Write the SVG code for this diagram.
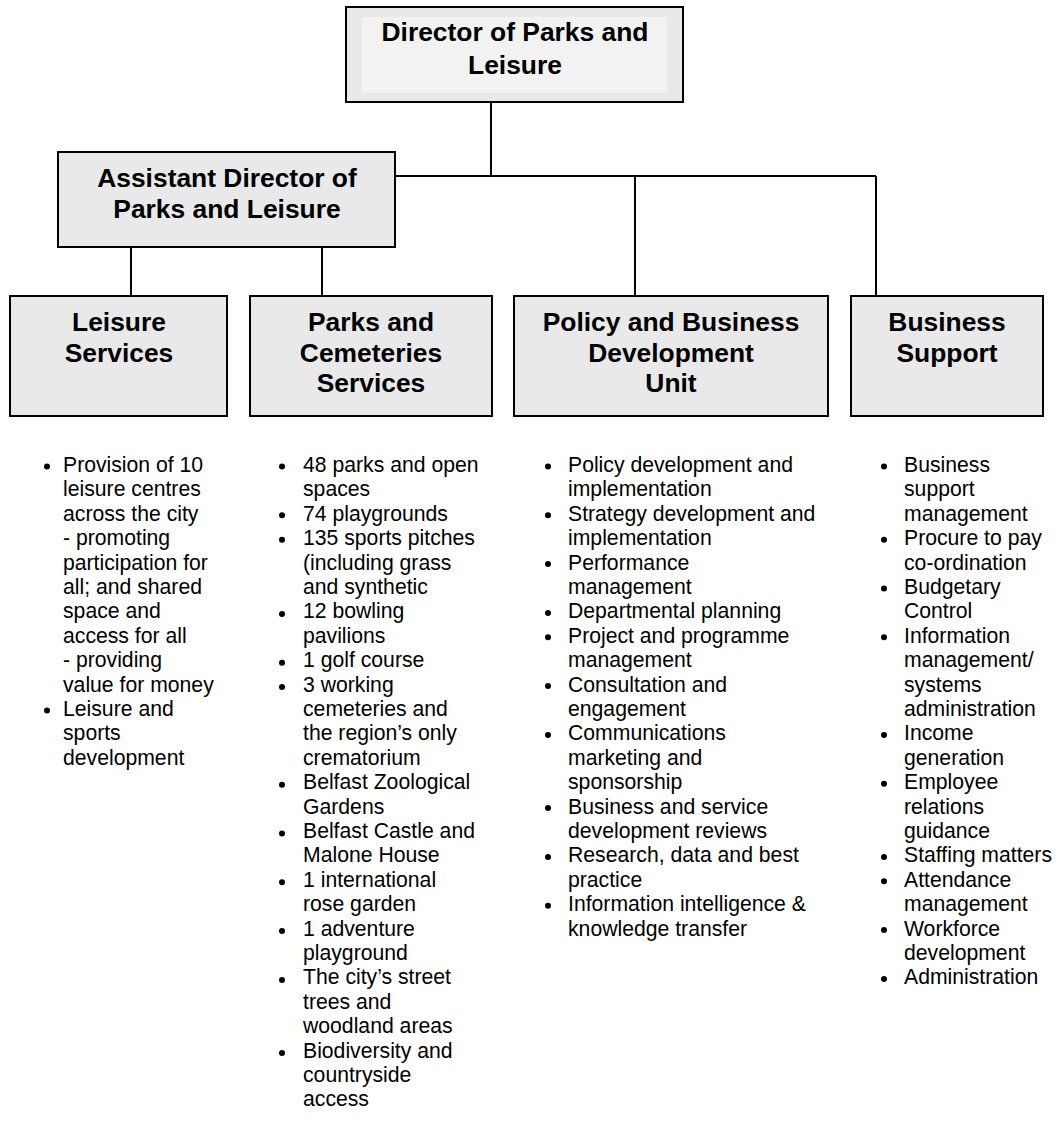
<svg xmlns="http://www.w3.org/2000/svg" width="1059" height="1126" viewBox="0 0 1059 1126">
<style>
.box{fill:#e9e9e9;stroke:#000;stroke-width:2}
.ttl{font-family:"Liberation Sans",Arial,sans-serif;font-weight:bold;font-size:26.4px;fill:#000;text-anchor:middle}
.lst{font-family:"Liberation Sans",Arial,sans-serif;font-size:21.2px;fill:#000}
.conn{stroke:#000;stroke-width:2;fill:none}
.bul{fill:#000}
</style>
<rect width="1059" height="1126" fill="#fff"/>
<g id="connectors">
<line class="conn" x1="491" y1="102" x2="491" y2="176"/>
<line class="conn" x1="395" y1="176" x2="876" y2="176"/>
<line class="conn" x1="635" y1="176" x2="635" y2="296"/>
<line class="conn" x1="876" y1="176" x2="876" y2="296"/>
<line class="conn" x1="131" y1="247" x2="131" y2="296"/>
<line class="conn" x1="322" y1="247" x2="322" y2="296"/>
</g>
<g id="director">
<rect class="box" x="346" y="7" width="337" height="95"/>
<rect x="362" y="17" width="305" height="76" fill="#f2f2f2"/>
<text class="ttl" x="515" y="41">Director of Parks and</text>
<text class="ttl" x="515" y="74">Leisure</text>
</g>
<g id="assistant">
<rect class="box" x="58" y="152" width="337" height="95"/>
<text class="ttl" x="227" y="187">Assistant Director of</text>
<text class="ttl" x="227" y="218">Parks and Leisure</text>
</g>
<g id="leisure">
<rect class="box" x="10" y="296" width="217" height="120"/>
<text class="ttl" x="119" y="331">Leisure</text>
<text class="ttl" x="119" y="362">Services</text>
</g>
<g id="parks">
<rect class="box" x="250" y="296" width="242" height="120"/>
<text class="ttl" x="371" y="331">Parks and</text>
<text class="ttl" x="371" y="362">Cemeteries</text>
<text class="ttl" x="371" y="392">Services</text>
</g>
<g id="policy">
<rect class="box" x="514" y="296" width="314" height="120"/>
<text class="ttl" x="671" y="331">Policy and Business</text>
<text class="ttl" x="671" y="362">Development</text>
<text class="ttl" x="671" y="392">Unit</text>
</g>
<g id="business">
<rect class="box" x="851" y="296" width="192" height="120"/>
<text class="ttl" x="947" y="331">Business</text>
<text class="ttl" x="947" y="362">Support</text>
</g>
<g id="leisure-list">
<circle class="bul" cx="47" cy="466.5" r="3"/>
<circle class="bul" cx="47" cy="710.5" r="3"/>
<text class="lst" x="63" y="472">
<tspan x="63" y="472">Provision of 10</tspan>
<tspan x="63" y="496.4">leisure centres</tspan>
<tspan x="63" y="520.8">across the city</tspan>
<tspan x="63" y="545.2">- promoting</tspan>
<tspan x="63" y="569.6">participation for</tspan>
<tspan x="63" y="594">all; and shared</tspan>
<tspan x="63" y="618.4">space and</tspan>
<tspan x="63" y="642.8">access for all</tspan>
<tspan x="63" y="667.2">- providing</tspan>
<tspan x="63" y="691.6">value for money</tspan>
<tspan x="63" y="716">Leisure and</tspan>
<tspan x="63" y="740.4">sports</tspan>
<tspan x="63" y="764.8">development</tspan>
</text>
</g>
<g id="parks-list">
<circle class="bul" cx="282" cy="466.5" r="3"/>
<circle class="bul" cx="282" cy="515.3" r="3"/>
<circle class="bul" cx="282" cy="539.7" r="3"/>
<circle class="bul" cx="282" cy="613.9" r="3"/>
<circle class="bul" cx="282" cy="662.7" r="3"/>
<circle class="bul" cx="282" cy="687.1" r="3"/>
<circle class="bul" cx="282" cy="784.7" r="3"/>
<circle class="bul" cx="282" cy="833.5" r="3"/>
<circle class="bul" cx="282" cy="882.3" r="3"/>
<circle class="bul" cx="282" cy="931.1" r="3"/>
<circle class="bul" cx="282" cy="979.9" r="3"/>
<circle class="bul" cx="282" cy="1053.1" r="3"/>
<text class="lst">
<tspan x="303" y="472">48 parks and open</tspan>
<tspan x="303" y="496.4">spaces</tspan>
<tspan x="303" y="520.8">74 playgrounds</tspan>
<tspan x="303" y="545.2">135 sports pitches</tspan>
<tspan x="303" y="569.6">(including grass</tspan>
<tspan x="303" y="594">and synthetic</tspan>
<tspan x="303" y="618.4">12 bowling</tspan>
<tspan x="303" y="642.8">pavilions</tspan>
<tspan x="303" y="667.2">1 golf course</tspan>
<tspan x="303" y="691.6">3 working</tspan>
<tspan x="303" y="716">cemeteries and</tspan>
<tspan x="303" y="740.4">the region’s only</tspan>
<tspan x="303" y="764.8">crematorium</tspan>
<tspan x="303" y="789.2">Belfast Zoological</tspan>
<tspan x="303" y="813.6">Gardens</tspan>
<tspan x="303" y="838">Belfast Castle and</tspan>
<tspan x="303" y="862.4">Malone House</tspan>
<tspan x="303" y="886.8">1 international</tspan>
<tspan x="303" y="911.2">rose garden</tspan>
<tspan x="303" y="935.6">1 adventure</tspan>
<tspan x="303" y="960">playground</tspan>
<tspan x="303" y="984.4">The city’s street</tspan>
<tspan x="303" y="1008.8">trees and</tspan>
<tspan x="303" y="1033.2">woodland areas</tspan>
<tspan x="303" y="1057.6">Biodiversity and</tspan>
<tspan x="303" y="1082">countryside</tspan>
<tspan x="303" y="1106.4">access</tspan>
</text>
</g>
<g id="policy-list">
<circle class="bul" cx="548" cy="466.5" r="3"/>
<circle class="bul" cx="548" cy="515.3" r="3"/>
<circle class="bul" cx="548" cy="564.1" r="3"/>
<circle class="bul" cx="548" cy="612.9" r="3"/>
<circle class="bul" cx="548" cy="637.3" r="3"/>
<circle class="bul" cx="548" cy="686.1" r="3"/>
<circle class="bul" cx="548" cy="734.9" r="3"/>
<circle class="bul" cx="548" cy="808.1" r="3"/>
<circle class="bul" cx="548" cy="856.9" r="3"/>
<circle class="bul" cx="548" cy="905.7" r="3"/>
<text class="lst">
<tspan x="568" y="472">Policy development and</tspan>
<tspan x="568" y="496.4">implementation</tspan>
<tspan x="568" y="520.8">Strategy development and</tspan>
<tspan x="568" y="545.2">implementation</tspan>
<tspan x="568" y="569.6">Performance</tspan>
<tspan x="568" y="594">management</tspan>
<tspan x="568" y="618.4">Departmental planning</tspan>
<tspan x="568" y="642.8">Project and programme</tspan>
<tspan x="568" y="667.2">management</tspan>
<tspan x="568" y="691.6">Consultation and</tspan>
<tspan x="568" y="716">engagement</tspan>
<tspan x="568" y="740.4">Communications</tspan>
<tspan x="568" y="764.8">marketing and</tspan>
<tspan x="568" y="789.2">sponsorship</tspan>
<tspan x="568" y="813.6">Business and service</tspan>
<tspan x="568" y="838">development reviews</tspan>
<tspan x="568" y="862.4">Research, data and best</tspan>
<tspan x="568" y="886.8">practice</tspan>
<tspan x="568" y="911.2">Information intelligence &amp;</tspan>
<tspan x="568" y="935.6">knowledge transfer</tspan>
</text>
</g>
<g id="business-list">
<circle class="bul" cx="884" cy="466.5" r="3"/>
<circle class="bul" cx="884" cy="539.7" r="3"/>
<circle class="bul" cx="884" cy="588.5" r="3"/>
<circle class="bul" cx="884" cy="637.3" r="3"/>
<circle class="bul" cx="884" cy="734.9" r="3"/>
<circle class="bul" cx="884" cy="783.7" r="3"/>
<circle class="bul" cx="884" cy="856.9" r="3"/>
<circle class="bul" cx="884" cy="881.3" r="3"/>
<circle class="bul" cx="884" cy="930.1" r="3"/>
<circle class="bul" cx="884" cy="978.9" r="3"/>
<text class="lst">
<tspan x="904" y="472">Business</tspan>
<tspan x="904" y="496.4">support</tspan>
<tspan x="904" y="520.8">management</tspan>
<tspan x="904" y="545.2">Procure to pay</tspan>
<tspan x="904" y="569.6">co-ordination</tspan>
<tspan x="904" y="594">Budgetary</tspan>
<tspan x="904" y="618.4">Control</tspan>
<tspan x="904" y="642.8">Information</tspan>
<tspan x="904" y="667.2">management/</tspan>
<tspan x="904" y="691.6">systems</tspan>
<tspan x="904" y="716">administration</tspan>
<tspan x="904" y="740.4">Income</tspan>
<tspan x="904" y="764.8">generation</tspan>
<tspan x="904" y="789.2">Employee</tspan>
<tspan x="904" y="813.6">relations</tspan>
<tspan x="904" y="838">guidance</tspan>
<tspan x="904" y="862.4">Staffing matters</tspan>
<tspan x="904" y="886.8">Attendance</tspan>
<tspan x="904" y="911.2">management</tspan>
<tspan x="904" y="935.6">Workforce</tspan>
<tspan x="904" y="960">development</tspan>
<tspan x="904" y="984.4">Administration</tspan>
</text>
</g>
</svg>
